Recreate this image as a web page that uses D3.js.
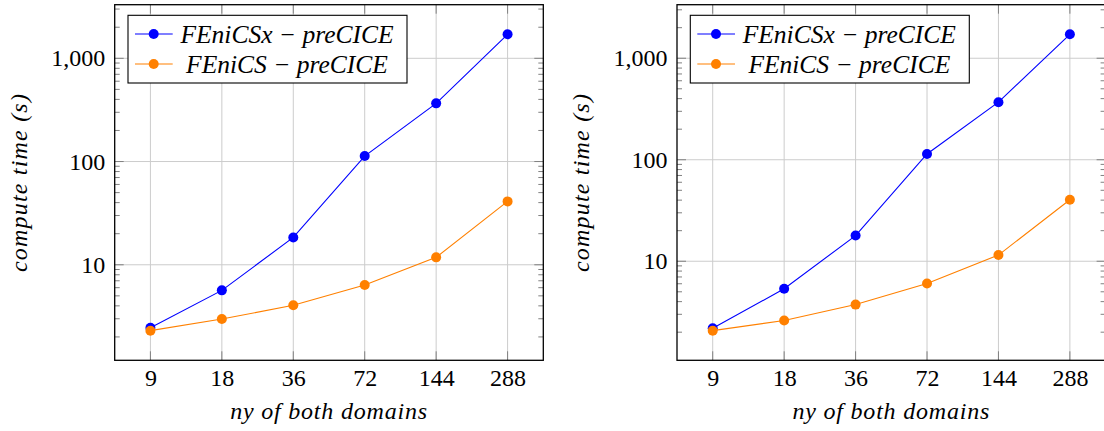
<!DOCTYPE html>
<html>
<head>
<meta charset="utf-8">
<script src="https://cdn.jsdelivr.net/npm/d3@7"></script>
<style>
  body { margin: 0; background: #fff; }
  svg { display: block; }
  svg text { font-family: "Liberation Serif", "Times New Roman", "DejaVu Serif", serif; }
</style>
</head>
<body>
<div id="chart"></div>
<script>
// Data
const nyValues = [9, 18, 36, 72, 144, 288];
const leftFenicsx = [2.45, 5.65, 18.4, 113, 366, 1707];
const leftFenics = [2.30, 2.98, 4.05, 6.36, 11.8, 41.1];
const rightFenicsx = [2.19, 5.35, 17.9, 114, 369, 1720];
const rightFenics = [2.07, 2.61, 3.74, 6.03, 11.5, 40.4];
const yTickValues = [10, 100, 1000];
const seriesLabels = ["FEniCSx \u2212 preCICE", "FEniCS \u2212 preCICE"];
const seriesColors = ["#0000ff", "#ff8000"];
const xTitle = "ny of both domains";
const yTitle = "compute time (s)";

const width = 1104;
const height = 431;
// Frame of each panel
const frameW = 428.6, frameH = 355.6, frameTop = 4.7;
const panelLefts = [114.7, 677];
// pgfplots-style enlargement of the log range
const enlarge = 0.1;
const majorTick = 9, minorTick = 5;
const gridColor = "#cccccc";
const tickColor = "#808080";

const svg = d3.select("#chart").append("svg")
  .attr("width", width)
  .attr("height", height)
  .attr("viewBox", [0, 0, width, height]);

const logDomain = (values, base) => {
  const lg = v => Math.log(v) / Math.log(base);
  const [lo, hi] = d3.extent(values).map(lg);
  const pad = (hi - lo) * enlarge;
  return [Math.pow(base, lo - pad), Math.pow(base, hi + pad)];
};

const drawPanel = (left, series) => {
  const x0 = left, x1 = left + frameW;
  const y0 = frameTop + frameH, y1 = frameTop;
  const g = svg.append("g");

  const x = d3.scaleLog().base(2)
    .domain(logDomain(nyValues, 2))
    .range([x0, x1]);
  const y = d3.scaleLog()
    .domain(logDomain(series.flat(), 10))
    .range([y0, y1]);

  // minor tick values 2..9 per decade inside the domain
  const [ymin, ymax] = y.domain();
  const minorValues = [];
  for (let p = Math.floor(Math.log10(ymin)); p <= Math.ceil(Math.log10(ymax)); p++) {
    for (let k = 2; k <= 9; k++) {
      const v = k * Math.pow(10, p);
      if (v >= ymin && v <= ymax) minorValues.push(v);
    }
  }

  // Grid
  g.append("g")
    .selectAll("line")
    .data(nyValues)
    .join("line")
      .attr("x1", d => x(d)).attr("x2", d => x(d))
      .attr("y1", y0).attr("y2", y1)
      .attr("stroke", gridColor).attr("stroke-width", 1);
  g.append("g")
    .selectAll("line")
    .data(yTickValues)
    .join("line")
      .attr("x1", x0).attr("x2", x1)
      .attr("y1", d => y(d)).attr("y2", d => y(d))
      .attr("stroke", gridColor).attr("stroke-width", 1);

  // Ticks (inward, on all four sides)
  const ticks = g.append("g").attr("stroke", tickColor).attr("stroke-width", 1);
  nyValues.forEach(d => {
    ticks.append("line").attr("x1", x(d)).attr("x2", x(d)).attr("y1", y0).attr("y2", y0 - majorTick);
    ticks.append("line").attr("x1", x(d)).attr("x2", x(d)).attr("y1", y1).attr("y2", y1 + majorTick);
  });
  yTickValues.forEach(d => {
    ticks.append("line").attr("x1", x0).attr("x2", x0 + majorTick).attr("y1", y(d)).attr("y2", y(d));
    ticks.append("line").attr("x1", x1).attr("x2", x1 - majorTick).attr("y1", y(d)).attr("y2", y(d));
  });
  minorValues.forEach(d => {
    ticks.append("line").attr("x1", x0).attr("x2", x0 + minorTick).attr("y1", y(d)).attr("y2", y(d));
    ticks.append("line").attr("x1", x1).attr("x2", x1 - minorTick).attr("y1", y(d)).attr("y2", y(d));
  });

  // Axes labels via d3 axes, lines hidden
  g.append("g")
    .attr("transform", `translate(0,${y0})`)
    .call(d3.axisBottom(x).tickValues(nyValues).tickFormat(d3.format("d")).tickSize(0).tickPadding(26))
    .call(a => a.select(".domain").remove())
    .call(a => a.attr("font-family", null))
    .call(a => a.selectAll("text")
      .attr("font-size", 24)
      .attr("fill", "#000")
      .attr("dy", 0));
  g.append("g")
    .attr("transform", `translate(${x0},0)`)
    .call(d3.axisLeft(y).tickValues(yTickValues).tickFormat(d3.format(",")).tickSize(0).tickPadding(9.5))
    .call(a => a.select(".domain").remove())
    .call(a => a.attr("font-family", null))
    .call(a => a.selectAll("text")
      .attr("font-size", 24)
      .attr("fill", "#000"));

  // Frame
  g.append("rect")
    .attr("x", x0).attr("y", y1)
    .attr("width", frameW).attr("height", frameH)
    .attr("fill", "none").attr("stroke", "#000").attr("stroke-width", 1.3);

  // Series
  const line = d3.line()
    .x((d, i) => x(nyValues[i]))
    .y(d => y(d));
  series.forEach((values, s) => {
    const sg = g.append("g");
    sg.append("path")
      .datum(values)
      .attr("fill", "none")
      .attr("stroke", seriesColors[s])
      .attr("stroke-width", 1.1)
      .attr("d", line);
    sg.selectAll("circle")
      .data(values)
      .join("circle")
        .attr("cx", (d, i) => x(nyValues[i]))
        .attr("cy", d => y(d))
        .attr("r", 5)
        .attr("fill", seriesColors[s]);
  });

  // Axis titles (math italic, a bit loosely spaced)
  g.append("text")
    .attr("x", (x0 + x1) / 2)
    .attr("y", y0 + 59)
    .attr("text-anchor", "middle")
    .attr("font-size", 24)
    .attr("font-style", "italic")
    .attr("letter-spacing", 0.8)
    .text(xTitle);
  g.append("text")
    .attr("transform", `translate(${x0 - 88},${(y0 + y1) / 2}) rotate(-90)`)
    .attr("text-anchor", "middle")
    .attr("font-size", 24)
    .attr("font-style", "italic")
    .attr("letter-spacing", 1.2)
    .text(yTitle);

  // Legend
  const lg = g.append("g").attr("transform", `translate(${x0 + 13.3},${y1 + 10.6})`);
  lg.append("rect")
    .attr("width", 279).attr("height", 67.7)
    .attr("fill", "#fff").attr("stroke", "#000").attr("stroke-width", 1.1);
  seriesLabels.forEach((label, s) => {
    const row = lg.append("g").attr("transform", `translate(0,${18.7 + s * 30})`);
    row.append("line")
      .attr("x1", 7).attr("x2", 44.7)
      .attr("stroke", seriesColors[s]).attr("stroke-width", 1.1);
    row.append("circle")
      .attr("cx", 25.7).attr("r", 5)
      .attr("fill", seriesColors[s]);
    row.append("text")
      .attr("x", 159)
      .attr("y", 8.5)
      .attr("text-anchor", "middle")
      .attr("font-size", 25.5)
      .attr("font-style", "italic")
      .text(label);
  });
};

drawPanel(panelLefts[0], [leftFenicsx, leftFenics]);
drawPanel(panelLefts[1], [rightFenicsx, rightFenics]);
</script>
</body>
</html>
